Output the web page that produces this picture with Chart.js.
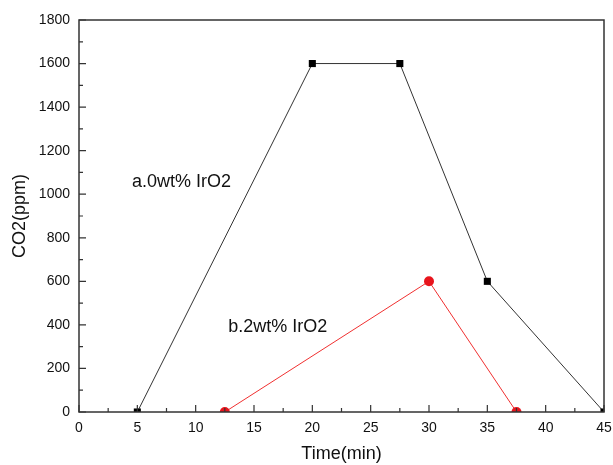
<!DOCTYPE html>
<html>
<head>
<meta charset="utf-8">
<script src="https://cdn.jsdelivr.net/npm/chart.js@4"></script>
<style>
  html, body { margin: 0; padding: 0; background: #fff; }
  #wrap { width: 613px; height: 465px; }
</style>
</head>
<body>
<div id="wrap"><canvas id="myChart"></canvas></div>
<script>
// Data
let timeA = [5, 20, 27.5, 35, 45];
let co2A = [0, 1600, 1600, 600, 0];
let timeB = [12.5, 30, 37.5];
let co2B = [0, 600, 0];

let labelA = "a.0wt% IrO2";
let labelB = "b.2wt% IrO2";

const FONT = '"Liberation Sans", Arial, sans-serif';

// Frame + inward ticks, like the original plot
const framePlugin = {
    id: 'frame',
    afterDatasetsDraw(chart) {
        const { ctx, chartArea: a, scales } = chart;
        const x = scales.x, y = scales.y;
        ctx.save();
        ctx.strokeStyle = '#333';
        ctx.lineWidth = 1.5;
        ctx.strokeRect(a.left, a.top, a.right - a.left, a.bottom - a.top);

        ctx.lineWidth = 1.2;
        ctx.beginPath();
        for (let v = 0; v <= 45; v += 2.5) {
            let px = x.getPixelForValue(v);
            let len = (v % 5 === 0) ? 7 : 4;
            ctx.moveTo(px, a.bottom);
            ctx.lineTo(px, a.bottom - len);
        }
        for (let v = 0; v <= 1800; v += 100) {
            let py = y.getPixelForValue(v);
            let len = (v % 200 === 0) ? 7 : 4;
            ctx.moveTo(a.left, py);
            ctx.lineTo(a.left + len, py);
        }
        ctx.stroke();

        // series labels
        ctx.fillStyle = '#111';
        ctx.font = '18px ' + FONT;
        ctx.textBaseline = 'middle';
        ctx.fillText(labelA, x.getPixelForValue(4.55), y.getPixelForValue(1058));
        ctx.fillText(labelB, x.getPixelForValue(12.8), y.getPixelForValue(392));
        ctx.restore();
    }
};

const ctx = document.getElementById('myChart').getContext('2d');

let chart = new Chart(ctx, {
    type: 'line',
    data: {
        datasets: [{
            label: labelA,
            data: timeA.map((t, i) => ({ x: t, y: co2A[i] })),
            borderColor: '#333',
            borderWidth: 1,
            pointStyle: 'rect',
            pointRadius: 5,
            pointBackgroundColor: '#000',
            pointBorderWidth: 0,
            clip: 0
        }, {
            label: labelB,
            data: timeB.map((t, i) => ({ x: t, y: co2B[i] })),
            borderColor: '#f03030',
            borderWidth: 1,
            pointStyle: 'circle',
            pointRadius: 5,
            pointBackgroundColor: '#e8141c',
            pointBorderWidth: 0,
            clip: 0
        }]
    },
    options: {
        responsive: true,
        maintainAspectRatio: false,
        animation: false,
        layout: { padding: { left: 0, right: 9, top: 20, bottom: 0 } },
        plugins: {
            legend: { display: false },
            tooltip: { enabled: false }
        },
        scales: {
            x: {
                type: 'linear',
                min: 0,
                max: 45,
                afterFit(s) { s.height = 53; s.paddingLeft = 0; s.paddingRight = 0; },
                grid: { display: false, drawTicks: false },
                border: { display: false },
                ticks: {
                    stepSize: 5,
                    padding: 8,
                    color: '#111',
                    callback: v => String(v),
                    font: { family: FONT, size: 14 }
                },
                title: {
                    display: true,
                    text: 'Time(min)',
                    color: '#111',
                    padding: { top: 3, bottom: 0 },
                    font: { family: FONT, size: 18 }
                }
            },
            y: {
                min: 0,
                max: 1800,
                afterFit(s) { s.width = 79; s.paddingTop = 0; s.paddingBottom = 0; },
                grid: { display: false, drawTicks: false },
                border: { display: false },
                ticks: {
                    stepSize: 200,
                    padding: 9,
                    color: '#111',
                    callback: v => String(v),
                    font: { family: FONT, size: 14 }
                },
                title: {
                    display: true,
                    text: 'CO2(ppm)',
                    color: '#111',
                    padding: { top: 9, bottom: 0 },
                    font: { family: FONT, size: 18 }
                }
            }
        }
    },
    plugins: [framePlugin]
});
</script>
</body>
</html>
